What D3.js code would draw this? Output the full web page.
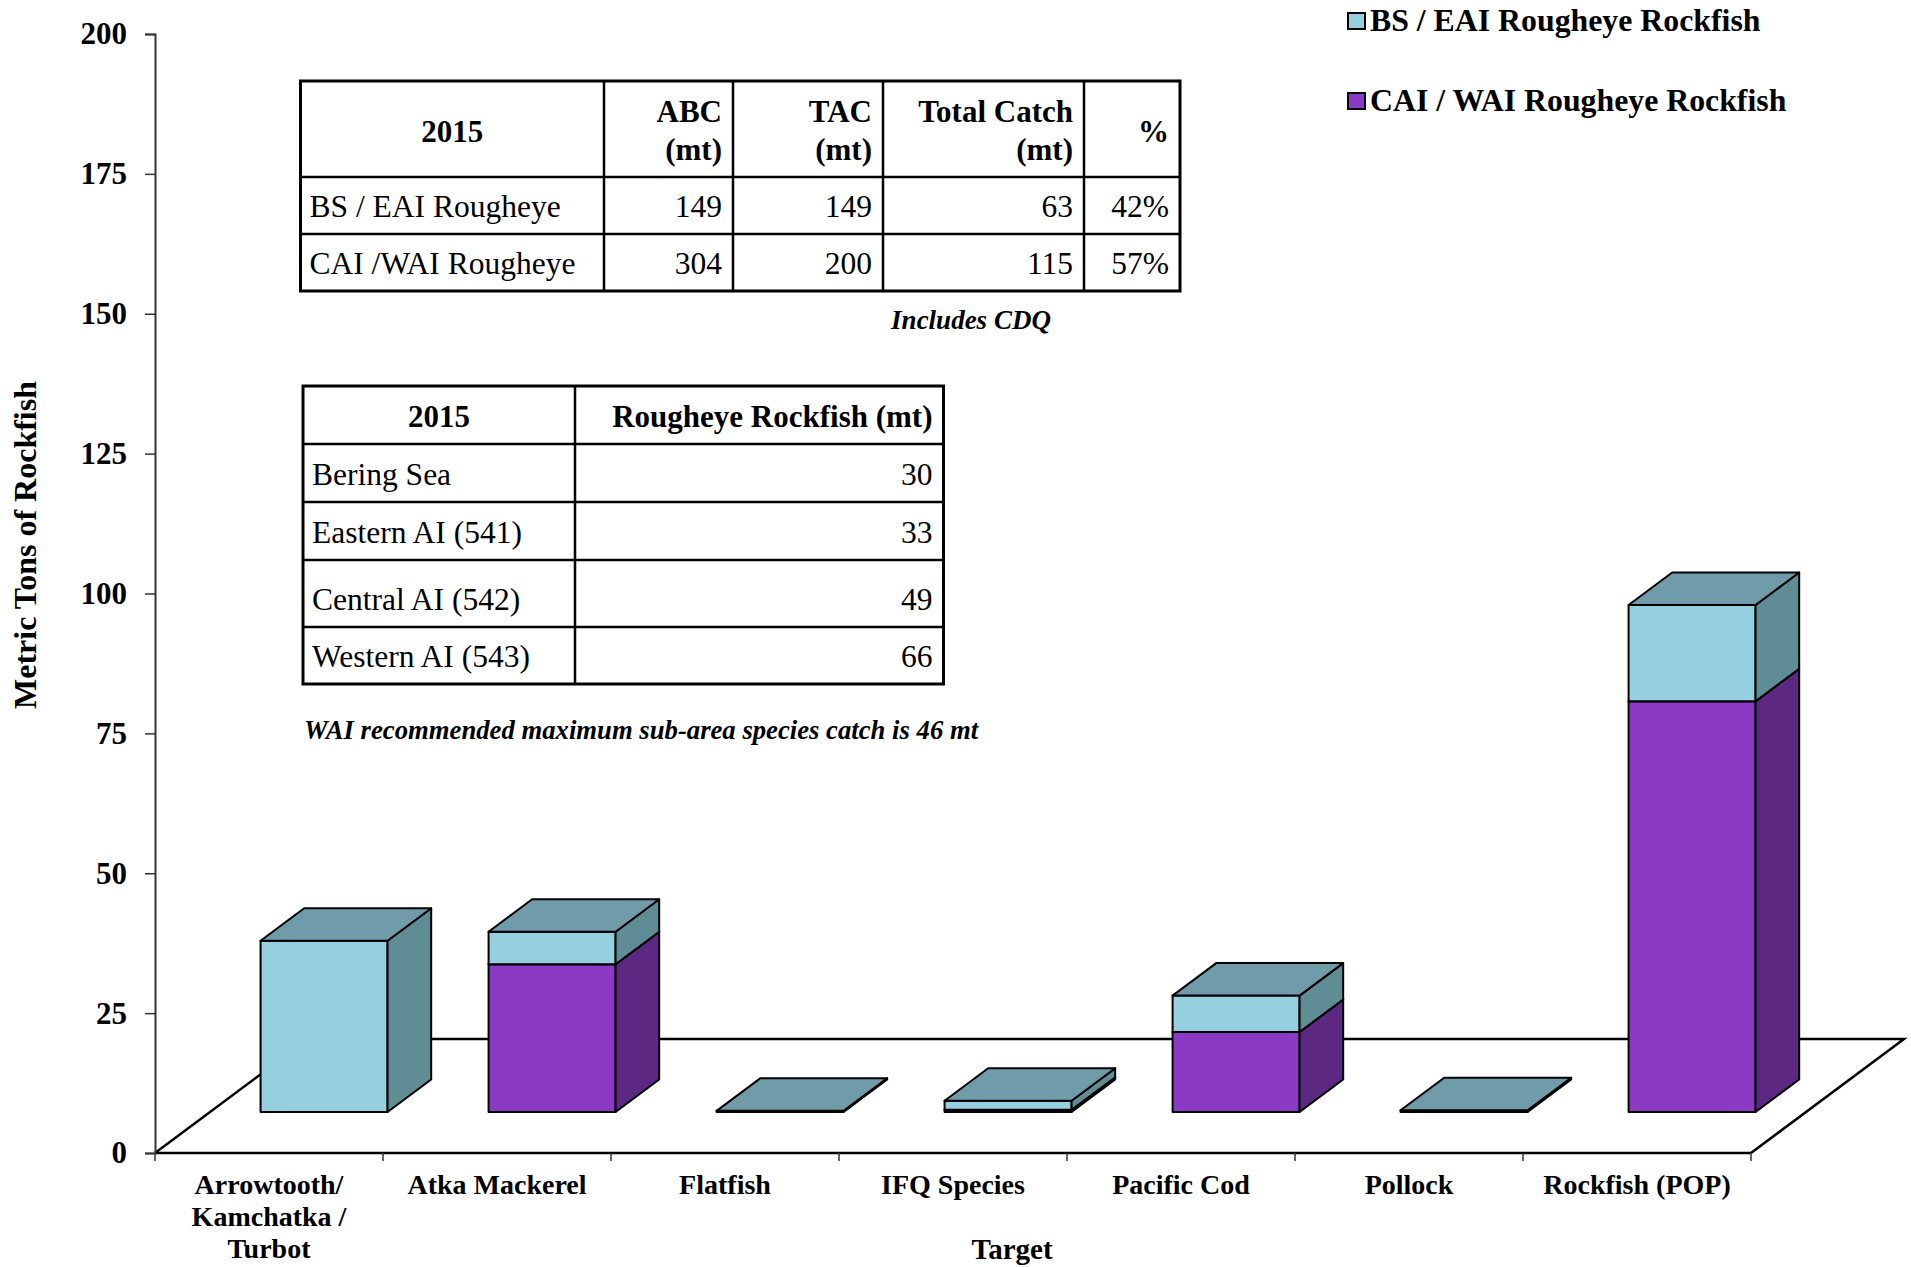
<!DOCTYPE html>
<html>
<head>
<meta charset="utf-8">
<script src="https://cdn.jsdelivr.net/npm/d3@7"></script>
<style>
  body { margin: 0; background: #fff; }
  svg text { font-family: "Liberation Serif", "Times New Roman", serif; fill: #000; }
</style>
</head>
<body>
<script>
// ---- data ----
const categories = ["Arrowtooth", "Atka Mackerel", "Flatfish", "IFQ Species", "Pacific Cod", "Pollock", "Rockfish (POP)"];
const categoryLabels = [["Arrowtooth/", "Kamchatka /", "Turbot"], ["Atka Mackerel"], ["Flatfish"], ["IFQ Species"], ["Pacific Cod"], ["Pollock"], ["Rockfish (POP)"]];
const caiWai = [0, 26.4, 0, 0.4, 14.3, 0, 73.4];
const bsEai = [30.6, 5.8, 0.2, 1.6, 6.5, 0.3, 17.2];
const seriesNames = ["BS / EAI Rougheye Rockfish", "CAI / WAI Rougheye Rockfish"];
const yTicks = [0, 25, 50, 75, 100, 125, 150, 175, 200];

const table1Head = [["2015"], ["ABC", "(mt)"], ["TAC", "(mt)"], ["Total Catch", "(mt)"], ["%"]];
const table1Rows = [
  ["BS / EAI Rougheye", "149", "149", "63", "42%"],
  ["CAI /WAI Rougheye", "304", "200", "115", "57%"]
];
const table1Note = "Includes CDQ";
const table2Head = ["2015", "Rougheye Rockfish (mt)"];
const table2Rows = [
  ["Bering Sea", "30"],
  ["Eastern AI (541)", "33"],
  ["Central AI (542)", "49"],
  ["Western AI (543)", "66"]
];
const table2Note = "WAI recommended maximum sub-area species catch is 46 mt";

// ---- layout ----
const width = 1911, height = 1267;
const plotLeft = 155, plotRight = 1751, plotBottom = 1153, plotTop = 34;
const floorDx = 153, floorDy = -114;   // depth of the floor
const frontFrac = 0.36, depthFrac = 0.285;
const barFrac = 0.557;

const colors = {
  bs:  { front: "#95cfe0", side: "#5f8c95", top: "#6f9ca8" },
  cai: { front: "#8a3ac5", side: "#5d2881", top: "#6a2f96" }
};

const svg = d3.select("body").append("svg")
  .attr("width", width).attr("height", height);

const x = d3.scaleBand().domain(categories).range([plotLeft, plotRight]).padding(0);
const y = d3.scaleLinear().domain([0, 200]).range([plotBottom, plotTop]);

// floor (behind the bars)
const floor = svg.append("g");
floor.append("path")
  .attr("d", `M${plotLeft},${plotBottom} L${plotLeft + floorDx},${plotBottom + floorDy} L${plotRight + floorDx},${plotBottom + floorDy} L${plotRight},${plotBottom}`)
  .attr("fill", "none").attr("stroke", "#000").attr("stroke-width", 2.5);

// bars
const ox = frontFrac * floorDx, oy = frontFrac * floorDy;
const bdx = depthFrac * floorDx, bdy = depthFrac * floorDy;
const barW = x.bandwidth() * barFrac;

const stacks = categories.map((c, i) => {
  const segs = [];
  let base = 0;
  [["cai", caiWai[i]], ["bs", bsEai[i]]].forEach(([k, v]) => {
    if (v > 0) { segs.push({ key: k, y0: base, y1: base + v }); base += v; }
  });
  return { cat: c, segs };
});

const bars = svg.append("g");
stacks.forEach(s => {
  const x0 = x(s.cat) + (x.bandwidth() - barW) / 2 + ox;
  s.segs.forEach(seg => {
    const yb = y(seg.y0) + oy, yt = y(seg.y1) + oy;
    const c = colors[seg.key];
    const g = bars.append("g").attr("stroke", "#000").attr("stroke-width", 2).attr("stroke-linejoin", "round");
    g.append("polygon")
      .attr("points", [[x0, yt], [x0 + barW, yt], [x0 + barW, yb], [x0, yb]].join(" "))
      .attr("fill", c.front);
    g.append("polygon")
      .attr("points", [[x0 + barW, yt], [x0 + barW + bdx, yt + bdy], [x0 + barW + bdx, yb + bdy], [x0 + barW, yb]].join(" "))
      .attr("fill", c.side);
    g.append("polygon")
      .attr("points", [[x0, yt], [x0 + bdx, yt + bdy], [x0 + barW + bdx, yt + bdy], [x0 + barW, yt]].join(" "))
      .attr("fill", c.top);
  });
});

// front axis line and category ticks
svg.append("line")
  .attr("x1", plotLeft).attr("x2", plotRight).attr("y1", plotBottom).attr("y2", plotBottom)
  .attr("stroke", "#000").attr("stroke-width", 2.5);
svg.append("g").selectAll("line")
  .data(d3.range(categories.length + 1))
  .join("line")
  .attr("x1", i => plotLeft + i * x.step()).attr("x2", i => plotLeft + i * x.step())
  .attr("y1", plotBottom).attr("y2", plotBottom + 8)
  .attr("stroke", "#333").attr("stroke-width", 1.5);

// category labels
const catG = svg.append("g");
categories.forEach((c, i) => {
  const t = catG.append("text")
    .attr("x", x(c) + x.bandwidth() / 2)
    .attr("y", 1194)
    .attr("text-anchor", "middle")
    .style("font-size", "28px").style("font-weight", "bold");
  categoryLabels[i].forEach((line, j) => {
    t.append("tspan").attr("x", x(c) + x.bandwidth() / 2).attr("dy", j ? 32 : 0).text(line);
  });
});

// y axis
const yAxis = d3.axisLeft(y).tickValues(yTicks).tickSize(10).tickPadding(18).tickFormat(d3.format("d"));
const yG = svg.append("g").attr("transform", `translate(${plotLeft},0)`).call(yAxis);
yG.select(".domain").attr("stroke", "#333").attr("stroke-width", 2);
yG.selectAll(".tick line").attr("stroke", "#333").attr("stroke-width", 1.5);
yG.selectAll(".tick text")
  .style("font-size", "31px").style("font-weight", "bold")
  .style("font-family", '"Liberation Serif", "Times New Roman", serif').attr("fill", "#000");

// axis titles
svg.append("text")
  .attr("transform", "translate(36,545) rotate(-90)")
  .attr("text-anchor", "middle")
  .style("font-size", "32px").style("font-weight", "bold")
  .text("Metric Tons of Rockfish");
svg.append("text")
  .attr("x", 1012).attr("y", 1259)
  .attr("text-anchor", "middle")
  .style("font-size", "29px").style("font-weight", "bold")
  .text("Target");

// legend
const legend = svg.append("g");
[["bs", 13], ["cai", 93]].forEach(([k, ly], i) => {
  legend.append("rect")
    .attr("x", 1348).attr("y", ly).attr("width", 17).attr("height", 16)
    .attr("fill", colors[k].front).attr("stroke", "#000").attr("stroke-width", 2);
  legend.append("text")
    .attr("x", 1370).attr("y", ly + 18)
    .style("font-size", "31.8px").style("font-weight", "bold")
    .text(seriesNames[i]);
});

// tables
function drawTable(cols, rows, head, body, headAlign) {
  const g = svg.append("g");
  g.append("rect")
    .attr("x", cols[0]).attr("y", rows[0])
    .attr("width", cols[cols.length - 1] - cols[0]).attr("height", rows[rows.length - 1] - rows[0])
    .attr("fill", "#fff").attr("stroke", "#000").attr("stroke-width", 3);
  cols.slice(1, -1).forEach(cx => g.append("line")
    .attr("x1", cx).attr("x2", cx).attr("y1", rows[0]).attr("y2", rows[rows.length - 1])
    .attr("stroke", "#000").attr("stroke-width", 2.5));
  rows.slice(1, -1).forEach(ry => g.append("line")
    .attr("x1", cols[0]).attr("x2", cols[cols.length - 1]).attr("y1", ry).attr("y2", ry)
    .attr("stroke", "#000").attr("stroke-width", 2.5));
  const cellX = (j, anchor) => anchor === "start" ? cols[j] + 9 : anchor === "end" ? cols[j + 1] - 11 : (cols[j] + cols[j + 1]) / 2;
  head.forEach((lines, j) => {
    const anchor = headAlign[j];
    const n = lines.length;
    lines.forEach((line, k) => {
      g.append("text")
        .attr("x", cellX(j, anchor))
        .attr("y", rows[1] - 17 - (n - 1 - k) * 38)
        .attr("text-anchor", anchor)
        .style("font-size", "31px").style("font-weight", "bold")
        .text(line);
    });
  });
  body.forEach((row, r) => {
    row.forEach((v, j) => {
      g.append("text")
        .attr("x", cellX(j, j === 0 ? "start" : "end"))
        .attr("y", rows[r + 2] - 17)
        .attr("text-anchor", j === 0 ? "start" : "end")
        .style("font-size", "31.5px")
        .text(v);
    });
  });
  return g;
}

const t1 = drawTable([300.5, 604, 733, 883, 1084, 1180], [81, 177, 234, 291],
  table1Head, table1Rows, ["middle", "end", "end", "end", "end"]);
// single-line header cells sit in the middle of the tall header row
t1.selectAll("text").filter(function () { return this.textContent === "2015" || this.textContent === "%"; })
  .attr("y", 142);
svg.append("text")
  .attr("x", 971).attr("y", 329)
  .attr("text-anchor", "middle")
  .style("font-size", "27px").style("font-weight", "bold").style("font-style", "italic")
  .text(table1Note);

drawTable([303, 575, 943.5], [386, 444, 502, 560, 627, 684],
  table2Head.map(d => [d]), table2Rows, ["middle", "end"]);
svg.append("text")
  .attr("x", 304).attr("y", 739)
  .style("font-size", "26.7px").style("font-weight", "bold").style("font-style", "italic")
  .text(table2Note);
</script>
</body>
</html>
